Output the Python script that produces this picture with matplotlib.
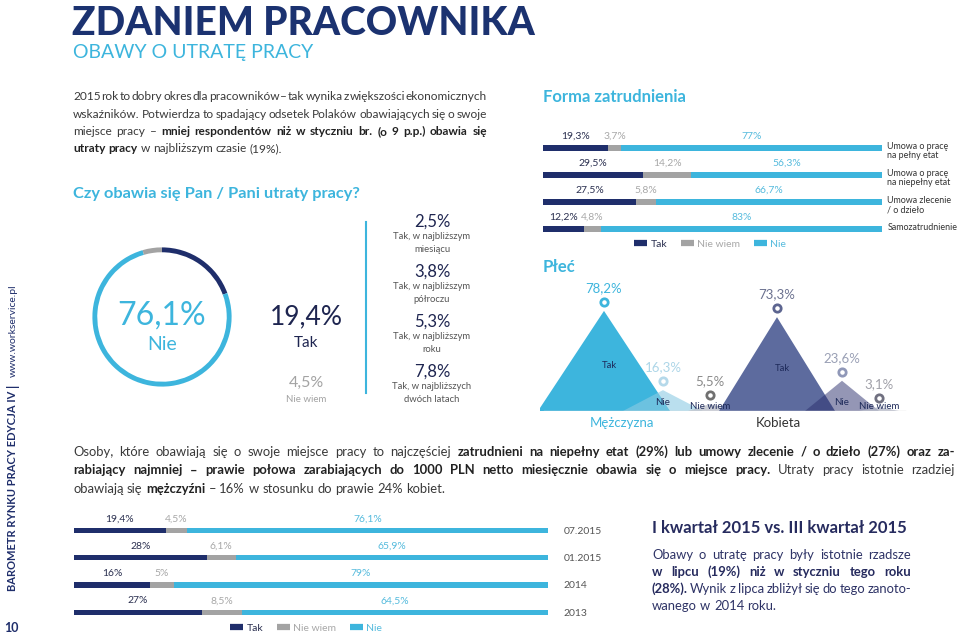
import numpy as np
import matplotlib
matplotlib.use('Agg')
import matplotlib.pyplot as plt
from matplotlib.lines import Line2D

plt.rcParams['font.family'] = ['Lato', 'DejaVu Sans']

# --- data -------------------------------------------------------------
donut_labels = ['Tak', 'Nie', 'Nie wiem']
donut_values = [19.4, 76.1, 4.5]

tak_detail_values = [2.5, 3.8, 5.3, 7.8]
tak_detail_labels = ['Tak, w najbliższym\nmiesiącu', 'Tak, w najbliższym\npółroczu',
                     'Tak, w najbliższym\nroku', 'Tak, w najbliższych\ndwóch latach']

forma_cats = ['Umowa o pracę\nna pełny etat', 'Umowa o pracę\nna niepełny etat',
              'Umowa zlecenie\n/ o dzieło', 'Samozatrudnienie']
forma_tak = [19.3, 29.5, 27.5, 12.2]
forma_niewiem = [3.7, 14.2, 5.8, 4.8]
forma_nie = [77, 56.3, 66.7, 83]

plec_groups = ['Mężczyzna', 'Kobieta']
plec_labels = ['Tak', 'Nie', 'Nie wiem']
plec_men = [78.2, 16.3, 5.5]
plec_women = [73.3, 23.6, 3.1]

years = ['07.2015', '01.2015', '2014', '2013']
years_tak = [19.4, 28, 16, 27]
years_niewiem = [4.5, 6.1, 5, 8.5]
years_nie = [76.1, 65.9, 79, 64.5]

# --- colours ----------------------------------------------------------
NAVY = '#1f2e6b'
TITLE = '#1b3270'
GRAY = '#a3a3a3'
LBLUE = '#3db5dd'
TXT = '#3a3a3a'


def fmt(v):
    if float(v).is_integer():
        return f'{int(v)}%'
    return f'{v:.1f}%'.replace('.', ',')


fig = plt.figure(figsize=(9.6, 6.36), dpi=100)
bg = fig.add_axes([0, 0, 1, 1])
bg.set_xlim(0, 960)
bg.set_ylim(636, 0)
bg.axis('off')
renderer = fig.canvas.get_renderer()


def px_axes(x0, y0, x1, y1):
    return fig.add_axes([x0 / 960, 1 - y1 / 636, (x1 - x0) / 960, (y1 - y0) / 636])


def text_width(s, size, weight):
    t = bg.text(0, 0, s, fontsize=size, fontweight=weight)
    w = t.get_window_extent(renderer).width
    t.remove()
    return w


def rich_line(x, y, parts, size, color, bold_color=None, width=None):
    bold_color = bold_color or color
    words = [(w, b) for txt, b in parts for w in txt.split()]
    wts = ['bold' if b else 'normal' for _, b in words]
    widths = [text_width(w, size, wt) for (w, _), wt in zip(words, wts)]
    if width is not None and len(words) > 1:
        gap = (width - sum(widths)) / (len(words) - 1)
    else:
        gap = text_width('a a', size, 'normal') - text_width('aa', size, 'normal')
    cx = x
    for (w, b), wt, ww in zip(words, wts, widths):
        bg.text(cx, y, w, fontsize=size, fontweight=wt, color=bold_color if b else color,
                ha='left', va='baseline')
        cx += ww + gap


# --- header -----------------------------------------------------------
bg.text(72, 35, 'ZDANIEM PRACOWNIKA', fontsize=28, fontweight='black', color=TITLE, va='baseline')
bg.text(73, 58, 'OBAWY O UTRATĘ PRACY', fontsize=14, color=LBLUE, va='baseline')

p1 = [
    ([('2015 rok to dobry okres dla pracowników – tak wynika z większości ekonomicznych', False)], True),
    ([('wskaźników. Potwierdza to spadający odsetek Polaków obawiających się o swoje', False)], True),
    ([('miejsce pracy – ', False), ('mniej respondentów niż w styczniu br. (o 9 p.p.) obawia się', True)], True),
    ([('utraty pracy', True), (' w najbliższym czasie (19%).', False)], False),
]
for i, (parts, just) in enumerate(p1):
    rich_line(73, 100 + i * 17.5, parts, 8.6, TXT, '#222222', 414 if just else None)

bg.text(73, 198, 'Czy obawia się Pan / Pani utraty pracy?', fontsize=11.8, fontweight='bold',
        color=LBLUE, va='baseline')

# --- donut ------------------------------------------------------------
ax_d = px_axes(75, 230, 249, 404)
ax_d.pie(donut_values, colors=[NAVY, LBLUE, GRAY], startangle=90, counterclock=False,
         radius=1, wedgeprops=dict(width=0.07, linewidth=0))
ax_d.set_aspect('equal')
bg.text(162, 316, fmt(donut_values[1]), fontsize=23, color=LBLUE,
        ha='center', va='center')
bg.text(162, 345, donut_labels[1], fontsize=14, color=LBLUE,
        ha='center', va='center')
bg.text(306, 317, fmt(donut_values[0]), fontsize=19, color='#1e2550',
        ha='center', va='center')
bg.text(306, 343, donut_labels[0], fontsize=11, color='#1e2550', ha='center', va='center')
bg.text(306, 383, fmt(donut_values[2]), fontsize=11.5, color=GRAY,
        ha='center', va='center')
bg.text(306, 400, donut_labels[2], fontsize=7, color=GRAY, ha='center', va='center')

bg.plot([366, 366], [222, 393], color=LBLUE, lw=1.5)
for i, (v, lab) in enumerate(zip(tak_detail_values, tak_detail_labels)):
    y0 = 222 + i * 50
    bg.text(432, y0, fmt(v), fontsize=12, color='#1e2550',
            ha='center', va='center')
    bg.text(432, y0 + 10, lab, fontsize=6.8, color='#555555', ha='center', va='top',
            linespacing=1.5)


# --- stacked bars -----------------------------------------------------
def stacked(ax, tak, nw, nie, bar_h):
    y = np.arange(len(tak))
    left = np.zeros(len(tak))
    segs = [(tak, NAVY, '#2b3050'), (nw, GRAY, '#a8a8a8'), (nie, LBLUE, '#55bbdd')]
    for vals, col, tcol in segs:
        vals = np.asarray(vals, float)
        ax.barh(y, vals, left=left, height=bar_h, color=col, linewidth=0)
        for yi, l, v in zip(y, left, vals):
            ax.text(l + v / 2, yi - 0.42, fmt(v), ha='center', va='center',
                    fontsize=7.5, color=tcol)
        left += vals
    ax.set_xlim(0, 100)
    ax.set_ylim(len(tak) - 0.5, -0.5)
    for s in ax.spines.values():
        s.set_visible(False)
    ax.set_xticks([])
    ax.set_facecolor('none')
    return y


def bar_legend(cx, cy):
    handles = [Line2D([], [], color=c, lw=4.5, solid_capstyle='butt') for c in (NAVY, GRAY, LBLUE)]
    fig.legend(handles, ['Tak', 'Nie wiem', 'Nie'], loc='center', ncol=3, frameon=False,
               bbox_to_anchor=(cx / 960, 1 - cy / 636), fontsize=7.5, handlelength=1.25,
               handletextpad=0.35, columnspacing=1.3,
               labelcolor=['#2b3050', '#a8a8a8', '#55bbdd'])


bg.text(543, 97, 'Forma zatrudnienia', fontsize=12, fontweight='bold', color=LBLUE,
        va='center')
ax_f = px_axes(543, 134.5, 882, 242.5)
yf = stacked(ax_f, forma_tak, forma_niewiem, forma_nie, 0.19)
ax_f.set_yticks([])
for yi, cat in zip(yf, forma_cats):
    ax_f.text(101.6, yi - 0.22, cat, fontsize=6.4, color='#333333', ha='left', va='top',
              linespacing=1.05)
bar_legend(710, 244)

ax_y = px_axes(74, 516.5, 548, 626)
yy = stacked(ax_y, years_tak, years_niewiem, years_nie, 0.19)
ax_y.set_yticks(yy, labels=years)
ax_y.yaxis.tick_right()
ax_y.tick_params(axis='y', length=0, pad=11, labelsize=7.5, labelcolor='#555555')
bar_legend(306, 628)

# --- płeć triangles ---------------------------------------------------
bg.text(543, 267, 'Płeć', fontsize=12, fontweight='bold', color=LBLUE, va='center')
ax_p = px_axes(540, 270, 910, 411)
ax_p.set_xlim(540, 910)
ax_p.set_ylim(0, 141 / 1.28)
ax_p.axis('off')
ax_p.set_facecolor('none')
ax_p.plot([544, 905], [0, 0], color='#dddddd', lw=1)

groups = [
    (plec_men, [604, 663, 710], [66, 40, 22],
     [('#3db5dd', 1), ('#8ccbe3', 0.6), ('#bfc2cc', 0.8)],
     ['#3db5dd', '#b5d9ea', '#707070'], ['#3db5dd', '#add6e8', '#8a8a8a']),
    (plec_women, [777, 842, 879], [58, 37, 20],
     [('#5d6b9e', 1), ('#2a2e6d', 0.5), ('#b4b8c8', 0.8)],
     ['#5d6590', '#9098b8', '#707080'], ['#6c7290', '#9aa0b5', '#a0a0a8']),
]
for vals, xs, hws, fills, rings, lcols in groups:
    for k, (v, x, hw, (fc, al), rc, lc) in enumerate(zip(vals, xs, hws, fills, rings, lcols)):
        ax_p.fill([x - hw, x, x + hw], [0, v, 0], color=fc, alpha=al, lw=0)
        ax_p.scatter([x], [v + 7], s=28, facecolor='white', edgecolor=rc, linewidth=2, zorder=5)
        ax_p.annotate(fmt(v), (x, v), xytext=(0, 23), textcoords='offset pixels',
                      ha='center', va='center', fontsize=9.5, color=lc)
    for k, (v, x, lab) in enumerate(zip(vals, xs, plec_labels)):
        ty = v * 0.45 if k == 0 else (7 if k == 1 else 3.5)
        ax_p.text(x + (5 if k == 0 else 0), ty, lab, fontsize=6.8 if k == 0 else 7,
                  color='#1e2a5a', ha='center', va='center', zorder=6)

bg.text(622, 423, plec_groups[0], fontsize=9.5, color=LBLUE, ha='center', va='center')
bg.text(778, 423, plec_groups[1], fontsize=9.5, color='#333333', ha='center', va='center')

# --- bottom paragraph -------------------------------------------------
p2 = [
    ([('Osoby, które obawiają się o swoje miejsce pracy to najczęściej ', False),
      ('zatrudnieni na niepełny etat (29%) lub umowy zlecenie / o dzieło (27%) oraz za-', True)], True),
    ([('rabiający najmniej – prawie połowa zarabiających do 1000 PLN netto miesięcznie obawia się o miejsce pracy.', True),
      (' Utraty pracy istotnie rzadziej', False)], True),
    ([('obawiają się ', False), ('mężczyźni', True), (' – 16% w stosunku do prawie 24% kobiet.', False)], False),
]
for i, (parts, just) in enumerate(p2):
    rich_line(73, 456 + i * 18.5, parts, 9.4, TXT, '#222222', 882 if just else None)

# --- right bottom note ------------------------------------------------
bg.text(652, 533, 'I kwartał 2015 vs. III kwartał 2015', fontsize=12, fontweight='bold',
        color='#262b5e', va='baseline')
p3 = [
    ([('Obawy o utratę pracy były istotnie rzadsze', False)], True),
    ([('w lipcu (19%) niż w styczniu tego roku', True)], True),
    ([('(28%).', True), (' Wynik z lipca zbliżył się do tego zanoto-', False)], True),
    ([('wanego w 2014 roku.', False)], False),
]
for i, (parts, just) in enumerate(p3):
    rich_line(652, 559 + i * 17, parts, 9.4, '#2e3366', '#262b5e', 259 if just else None)

# --- side strip -------------------------------------------------------
t1 = bg.text(13, 591, 'BAROMETR RYNKU PRACY EDYCJA IV', rotation=90, fontsize=8,
             fontweight='bold', color=NAVY, ha='center', va='bottom')
h1 = t1.get_window_extent(renderer).height
bg.text(13, 591 - h1 - 4, '|', rotation=90, fontsize=9, fontweight='bold', color=NAVY,
        ha='center', va='bottom')
bg.text(13, 591 - h1 - 14, 'www.workservice.pl', rotation=90, fontsize=7.5,
        color=NAVY, ha='center', va='bottom')
bg.text(4, 628, '10', fontsize=9, fontweight='bold', color=NAVY, va='center')

fig.savefig('out.png', dpi=100)
